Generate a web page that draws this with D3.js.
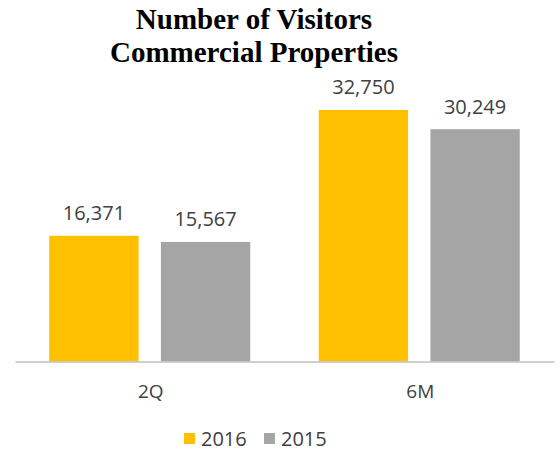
<!DOCTYPE html>
<html>
<head>
<meta charset="utf-8">
<title>Number of Visitors</title>
<script src="https://cdnjs.cloudflare.com/ajax/libs/d3/7.8.5/d3.min.js"></script>
<style>
body { margin: 0; background: #fff; }
.title { font-family: "Liberation Serif", "Times New Roman", serif; font-weight: bold; font-size: 29px; fill: #000; }
.val { font-family: "Open Sans", sans-serif; font-size: 20px; fill: #404040; }
.axis text { font-family: "Open Sans", sans-serif; font-size: 19px; fill: #404040; }
.axis .domain { stroke: #bfbfbf; stroke-width: 1.5; }
.legend text { font-family: "Open Sans", sans-serif; font-size: 20px; fill: #404040; }
</style>
</head>
<body>
<div id="chart"></div>
<script>
var categories = ["2Q", "6M"];
var seriesNames = ["2016", "2015"];
var values2016 = [16371, 32750];
var values2015 = [15567, 30249];
var seriesColors = ["#FFC000", "#A5A5A5"];
var titleLines = ["Number of Visitors", "Commercial Properties"];

var W = 560, H = 451;
var baseY = 361.5;

var svg = d3.select("#chart").append("svg")
	.attr("width", W).attr("height", H);

var series = seriesNames.map(function (s, i) {
	return { name: s, color: seriesColors[i], values: i === 0 ? values2016 : values2015 };
});

var x0 = d3.scaleBand().domain(categories).range([15, 554]);
var x1 = d3.scaleBand().domain(seriesNames)
	.range([34.25, x0.bandwidth() - 34.25])
	.paddingInner(0.2).paddingOuter(0);
var y = d3.scaleLinear().domain([0, 35000]).range([baseY, 92.7]);
var fmt = d3.format(",d");

// title
svg.selectAll(".title")
	.data(titleLines)
  .enter().append("text")
	.attr("class", "title")
	.attr("x", 254)
	.attr("y", function (d, i) { return 29 + i * 33; })
	.attr("text-anchor", "middle")
	.text(function (d) { return d; });

// bars
var groups = svg.selectAll(".grp")
	.data(categories)
  .enter().append("g")
	.attr("class", "grp")
	.attr("transform", function (d) { return "translate(" + x0(d) + ",0)"; });

groups.selectAll("rect")
	.data(function (c, ci) { return series.map(function (s) { return { s: s, v: s.values[ci] }; }); })
  .enter().append("rect")
	.attr("x", function (d) { return x1(d.s.name); })
	.attr("y", function (d) { return y(d.v); })
	.attr("width", x1.bandwidth())
	.attr("height", function (d) { return baseY - y(d.v); })
	.attr("fill", function (d) { return d.s.color; });

groups.selectAll(".val")
	.data(function (c, ci) { return series.map(function (s) { return { s: s, v: s.values[ci] }; }); })
  .enter().append("text")
	.attr("class", "val")
	.attr("x", function (d) { return x1(d.s.name) + x1.bandwidth() / 2; })
	.attr("y", function (d) { return y(d.v) - 15.5; })
	.attr("text-anchor", "middle")
	.text(function (d) { return fmt(d.v); });

// x axis
var xAxis = svg.append("g")
	.attr("class", "axis")
	.attr("transform", "translate(0," + baseY + ")")
	.call(d3.axisBottom(x0).tickSize(0).tickPadding(23));
xAxis.selectAll(".tick text").attr("dx", "1px");

// legend
var lg = svg.append("g").attr("class", "legend");
var lgX = [184, 264];
var items = lg.selectAll("g")
	.data(series)
  .enter().append("g")
	.attr("transform", function (d, i) { return "translate(" + lgX[i] + ",433)"; });
items.append("rect")
	.attr("width", 11).attr("height", 11)
	.attr("fill", function (d) { return d.color; });
items.append("text")
	.attr("x", 17).attr("y", 13)
	.text(function (d) { return d.name; });
</script>
</body>
</html>
